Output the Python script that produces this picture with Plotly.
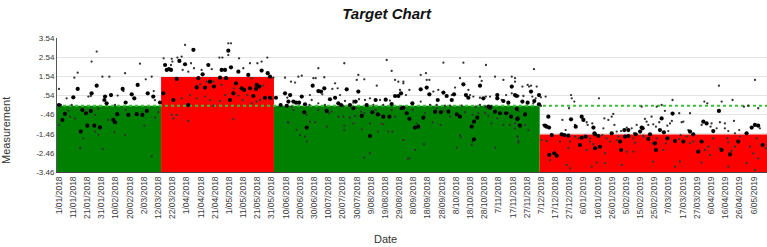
import pandas as pd
import plotly.graph_objects as go

# ---------------- data ----------------
START = pd.Timestamp("2018-01-01")

# segment (mean) bars: start/end in days since 2018-01-01
seg_start = [-1.4, 72.0, 151.6, 339.0]
seg_end = [72.0, 151.6, 339.0, 499.3]
seg_level = [0.0, 1.50, 0.0, -1.50]
seg_color = ["#008000", "#ff0000", "#008000", "#ff0000"]
target_value = 0.0

y_tick_vals = [3.54, 2.54, 1.54, 0.54, -0.46, -1.46, -2.46, -3.46]
y_tick_text = ["3.54", "2.54", "1.54", ".54", "-.46", "-1.46", "-2.46", "-3.46"]

# large points
large_day = [55.5, 26.6, 23.0, 13.2, 10.1, 32.5, 32.0, 33.6, 36.7, 44.9, 51.3, 53.1, 47.0, 62.6, 66.5, 71.2, 0.0, 4.2, 2.4, 16.5,
             19.1, 22.4, 20.0, 24.9, 28.9, 38.3, 41.1, 39.5, 48.9, 54.8, 58.8, 61.9, 15.3, 73.6, 74.8, 76.0, 77.6, 80.7,
             94.8, 119.4, 84.9, 88.9, 79.0, 101.3, 105.3, 114.7, 117.1, 121.3, 126.5, 133.5, 142.9, 147.2, 148.8, 83.0, 98.3,
             97.1, 103.0, 106.5, 109.3, 113.6, 117.8, 123.0, 124.8, 128.8, 130.5, 134.7, 139.0, 139.4, 141.3, 145.3, 137.1,
             120.6, 148.8, 91.2, 153.0, 156.3, 159.4, 160.6,
             178.9, 187.1, 182.9, 184.8, 202.9, 211.1, 163.0, 171.2, 191.1, 194.7, 209.2, 223.3, 230.4, 237.0, 239.3, 241.2,
             234.6, 161.8, 165.3, 167.2, 169.3, 173.5, 197.0, 198.9, 205.2, 217.0, 173.0, 188.8, 207.6, 213.5, 221.0, 224.8,
             228.7, 233.0, 242.8, 174.7, 219.3,
             285.2, 296.9, 319.3, 255.1, 259.3, 261.2, 267.1, 271.1, 273.4, 277.0, 278.6, 287.0, 288.7, 299.3, 309.1, 309.1,
             313.4, 316.9, 321.6, 249.2, 302.8, 241.7, 245.2, 247.1, 251.1, 253.4, 257.0, 265.2, 269.2, 274.6, 280.5, 282.8,
             292.7, 295.0, 291.0, 304.0, 307.5, 311.0, 315.3, 318.8, 323.2, 292.7,
             332.9, 338.5, 322.8, 335.2, 326.8, 330.5, 338.5, 322.8, 328.7, 323.5, 325.1, 345.1, 342.8, 343.9, 345.6, 361.1,
             364.4, 368.6, 369.8, 376.9, 377.6, 389.8, 398.7, 401.5, 409.8, 411.6, 406.7, 347.5, 354.5, 356.4, 359.2, 368.6,
             371.4, 378.0, 380.4, 399.2, 401.5, 367.4, 381.5, 395.7, 349.3, 351.0, 345.8, 378.0, 396.4,
             432.7, 465.4, 425.0, 410.9, 423.8, 426.6, 445.0, 447.3, 454.4, 456.7, 461.4, 484.9, 488.5, 490.8, 493.1, 416.8,
             415.6, 420.3, 421.0, 429.0, 434.4, 440.3, 450.8, 453.2, 467.3, 473.2, 479.0, 496.2]
large_val = [1.09, 1.05, 0.65, 0.88, 0.44, 0.48, 0.30, 0.13, 0.56, 0.88, 0.60, 0.39, 0.17, 0.65, 0.48, 0.17, 0.04, -0.42, -0.74, -0.22,
             -0.39, -0.27, -1.04, -1.04, -1.13, -0.74, -0.44, -0.86, -0.48, -0.44, -0.48, -0.27, -1.35, 0.65, 2.13, 1.87, 1.92, 0.30,
             2.92, 2.88, 2.34, 2.17, 1.87, 1.64, 2.13, 1.87, 1.87, 2.01, 1.78, 1.61, 1.84, 1.70, 1.52, 1.40, 1.44,
             0.96, 0.95, 1.26, 1.00, 1.47, 1.44, 0.65, 1.17, 0.91, 0.83, 0.91, 0.88, 1.09, 1.00, 0.42, 0.51,
             0.30, 0.42, 0.04, 0.42, 0.04, 0.65, 0.00,
             1.05, 0.91, 0.77, 0.74, 0.86, 0.74, 0.56, 0.48, 0.34, 0.42, 0.22, 0.30, 0.32, 0.51, 0.51, 0.65,
             0.09, 0.22, 0.22, 0.16, 0.16, 0.08, 0.13, 0.04, 0.04, 0.04, -0.34, -0.27, -0.13, -0.53, -0.34, -0.45,
             -0.57, -0.57, -0.10, -1.14, -1.58,
             1.12, 1.05, 1.00, 0.86, 0.95, 0.60, 0.30, 0.69, 0.51, 0.30, 0.60, 0.56, 0.42, 0.39, 0.56, 0.39,
             0.25, 0.16, 0.56, 0.13, -0.05, -0.13, -0.39, -0.69, -1.14, -1.09, -0.62, -0.31, -0.34, -0.31, -0.45, -0.57,
             -0.83, -0.62, -1.09, -0.10, -0.31, -0.39, -0.39, -0.57, -0.69, -1.75,
             0.74, 0.56, 0.51, 0.25, 0.22, 0.16, 0.08, -0.17, -0.45, -0.66, -1.04, -0.57, -1.04, -1.09, -1.14, -0.71,
             -1.09, -0.57, -0.74, -1.14, -1.44, -1.44, -1.27, -1.27, -1.35, -1.18, -1.49, -1.53, -1.49, -1.53, -1.56, -1.67,
             -1.61, -1.49, -1.58, -1.61, -1.58, -2.05, -2.14, -1.87, -2.48, -2.61, -2.57, -2.22, -2.31,
             -0.41, -0.27, -0.66, -1.14, -1.27, -1.39, -1.35, -1.49, -0.83, -0.92, -1.32, -1.44, -1.14, -1.00, -1.04, -1.49,
             -1.73, -1.96, -2.31, -1.70, -1.84, -1.87, -2.40, -1.87, -2.31, -2.54, -1.87, -2.05]

# small points
small_day = [26.6, 23.0, 13.2, 10.8, 30.6, 35.5, 46.6, 57.1, 61.2, 65.4, 0.0, 5.4, 20.7, 22.4, 41.4, 45.4, 39.5, 66.8, 67.7, 1.4,
             9.0, 6.6, 7.8, 11.3, 27.8, 25.4, 34.8, 47.0, 60.2, 67.7, 70.1, 17.2, 25.4, 27.8, 39.0, 46.6, 14.9, 30.8, 65.4, 0.0,
             79.0, 80.0, 73.8, 79.5,
             88.9, 119.4, 121.3, 119.4, 79.5, 83.5, 86.5, 93.1, 87.2, 91.2, 95.2, 100.6, 107.7, 113.1, 115.2, 127.0, 130.0,
             134.7, 139.9, 142.9, 146.9, 151.2, 99.5, 104.2, 108.9, 114.7, 123.4, 135.9, 144.1, 86.5, 92.4, 97.1, 103.0,
             106.5, 113.6, 117.1, 126.5, 129.5, 132.8, 135.9, 139.4, 141.8, 150.0, 108.9, 83.0, 80.7, 91.2, 123.0, 159.4,
             161.0, 161.8,
             231.1, 182.9, 201.2, 234.6, 168.8, 171.2, 179.4, 181.0, 163.6, 166.5, 187.1, 194.7, 211.1, 210.0, 215.3, 224.1,
             237.0, 239.3, 242.8, 196.5, 192.8, 159.9, 177.0, 178.2, 185.7, 198.2, 201.7, 207.6, 211.6, 215.8, 219.3, 226.4,
             233.4, 176.6, 182.9, 187.6, 200.5, 207.6, 221.7, 228.7, 164.1, 165.3, 174.7, 182.9, 190.4, 192.3, 197.0, 200.5,
             205.2, 208.8, 213.0, 215.3, 223.3, 226.4, 234.6, 237.0, 161.3, 177.0, 180.6, 188.8, 201.2, 207.6, 219.3, 227.6,
             228.7, 232.3, 235.1, 167.6, 170.0, 173.5, 174.7, 201.2, 213.5, 224.8, 242.8, 219.3, 215.3,
             271.1, 301.1, 285.2, 258.8, 255.1, 261.2, 259.3, 242.9, 240.5, 282.8, 288.7, 296.9, 298.1, 307.5, 313.4, 319.3,
             247.1, 244.7, 264.0, 267.5, 277.0, 279.3, 289.9, 292.2, 296.9, 301.1, 304.0, 312.2, 315.3, 319.3, 324.0, 255.1,
             305.1, 300.4, 294.1, 296.9, 261.7, 266.4, 272.2, 275.8, 284.0, 242.9, 249.4, 252.3, 258.1, 266.4, 271.1, 275.8,
             286.3, 291.7, 295.7, 300.4, 302.8, 316.9, 324.0, 263.5, 269.2, 305.1, 309.1, 313.4, 318.1, 321.6, 282.8, 283.3,
             291.7, 291.0, 242.9, 257.4, 251.1, 247.1, 280.5, 307.5, 323.2, 324.0, 246.0,
             335.0, 321.6, 321.6, 326.8, 330.5, 331.5, 332.9, 336.9, 327.5, 333.8, 336.2, 339.9, 343.2, 334.5, 339.9, 324.0,
             328.7, 331.0, 323.5, 324.0, 321.6, 361.1, 361.6, 363.4, 380.8, 359.7, 341.6, 355.0, 363.9, 357.3, 372.1, 372.8,
             376.1, 384.6, 387.4, 389.8, 390.9, 391.7, 383.9, 393.3, 396.4, 400.4, 403.9, 405.5, 407.4, 363.9, 366.3, 374.5,
             383.2, 386.2, 394.5, 405.1, 412.1, 340.4, 343.9, 353.3, 360.4, 374.5, 376.9, 388.6, 393.3, 406.2, 359.2, 372.1,
             379.2, 385.1, 400.4, 405.1, 346.3, 358.0, 375.7, 379.2, 385.1, 396.9, 360.4,
             490.8, 465.4, 475.0, 455.1, 457.2, 467.3, 432.7, 425.0, 421.5, 410.9, 483.0, 486.1, 493.1, 427.3, 437.4, 445.0,
             417.9, 423.3, 414.4, 413.2, 415.6, 419.1, 421.0, 429.0, 430.9, 432.2, 439.1, 440.3, 429.7, 443.8, 460.2, 459.5,
             453.2, 466.1, 469.6, 476.0, 463.8, 469.6, 472.0, 479.7, 494.3, 476.7, 409.7, 412.1, 421.5, 418.6, 426.2, 428.0,
             437.4, 438.4, 442.6, 445.0, 447.3, 455.5, 457.9, 459.1, 461.4, 466.1, 471.3, 472.0, 474.3, 476.7, 480.2, 487.3,
             492.0, 498.5, 489.6, 493.1, 484.9, 472.0, 453.2, 437.9, 419.1, 434.4, 490.8]
small_val = [2.83, 2.31, 1.73, 1.47, 1.52, 1.52, 1.70, 2.20, 1.38, 1.52, 0.88, 0.39, 0.48, 0.51, 0.53, 0.77, 0.04, 0.77, 0.29, 0.04,
             0.04, -0.27, -0.57, -0.66, -0.16, -0.48, -0.74, -0.22, -1.04, -0.62, -0.34, -1.70, -1.35, -1.53, -1.39, -1.53, -2.22, -2.27, -2.65, -1.00,
             2.13, 2.31, 2.48, -0.48,
             3.18, 3.26, 3.26, 2.65, 2.45, 2.52, 2.57, 2.22, 1.87, 1.78, 1.96, 1.87, 1.91, 2.52, 2.52, 2.48, 1.96,
             2.22, 2.22, 2.31, 2.52, 1.47, 1.12, 1.26, 1.26, 1.09, 0.91, 1.44, 1.05, 0.39, 0.56, 0.39, 0.48,
             0.30, 0.25, 0.56, 0.53, 0.30, 0.56, 0.13, 0.22, 0.30, 0.35, 0.00, -0.48, -0.66, -0.79, -0.71, 1.47,
             0.42, -0.88,
             2.39, 1.96, 2.22, 1.82, 1.52, 1.57, 1.44, 1.44, 1.26, 1.21, 1.49, 1.17, 1.61, 1.35, 1.38, 1.05,
             1.35, 1.26, 1.17, 0.91, 0.88, 0.65, 0.56, 0.30, 0.60, 0.56, 0.25, 0.25, 0.34, 0.30, 0.39, 0.30,
             0.27, 0.04, 0.13, 0.04, 0.00, 0.16, 0.04, 0.04, -0.05, -0.22, -0.48, -0.22, -0.39, -0.31, -0.57, -0.57,
             -0.62, -0.53, -0.31, -0.39, -0.22, -0.48, -0.22, -0.57, -0.86, -0.83, -0.86, -1.09, -1.04, -0.92, -0.92, -0.92,
             -0.97, -1.35, -1.35, -1.27, -1.53, -1.61, -1.87, -1.27, -1.23, -1.35, -1.79, -2.48, -2.71,
             2.25, 2.13, 2.25, 1.70, 1.61, 1.35, 1.35, 1.26, 0.83, 1.44, 0.83, 1.52, 1.30, 1.52, 1.35, 1.52,
             0.83, 0.56, 0.74, 0.83, 0.56, 0.95, 0.56, 0.48, 0.42, 0.48, 0.48, 0.30, 0.56, 0.65, 0.51, 0.22,
             -0.01, -0.05, -0.05, 0.04, 0.04, 0.04, 0.00, 0.00, 0.00, -0.13, -0.22, -0.92, -0.39, -0.13, -0.27, -0.57,
             -0.34, -0.48, -0.39, -0.39, -0.52, -0.39, -0.27, -0.86, -1.00, -0.92, -0.66, -1.00, -1.00, -0.92, -1.53, -1.65,
             -1.87, -2.05, -1.79, -2.01, -2.31, -2.75, -2.19, -2.19, -1.61, -1.93, -2.76,
             1.91, 1.44, 1.26, 1.00, 1.09, 1.00, 1.05, 1.00, 0.51, 0.48, 0.39, 0.44, 0.48, 0.13, -0.01, -1.00,
             -1.00, -1.27, -1.61, -1.84, -1.18, 0.56, 0.39, 0.22, 0.39, -0.13, -1.00, -0.74, -1.00, -1.27, -0.86, -1.00,
             -0.92, -0.66, -0.74, -0.57, -0.43, -1.00, -1.18, -1.35, -1.32, -1.14, -1.18, -1.44, -1.00, -1.61, -1.70, -1.70,
             -1.53, -1.70, -1.61, -1.70, -1.56, -1.79, -1.84, -1.87, -1.87, -1.87, -2.01, -1.87, -1.79, -1.93, -2.22, -2.31,
             -2.22, -2.48, -2.40, -2.40, -2.84, -3.09, -3.18, -2.97, -3.00, -3.09, -3.27,
             1.35, 1.05, 0.30, 0.22, 0.13, 0.22, 0.30, 0.04, -0.05, -0.05, -0.05, 0.00, -0.13, -0.27, -0.39, -0.39,
             -0.57, -0.86, -0.83, -0.69, -1.00, -0.97, -1.09, -1.04, -0.92, -0.79, -0.86, -0.83, -1.32, -1.27, -0.92, -1.09,
             -1.00, -0.86, -0.92, -0.79, -1.18, -1.18, -1.32, -1.27, -1.18, -1.44, -1.35, -1.61, -1.70, -1.96, -2.31, -1.96,
             -1.73, -1.53, -1.61, -1.96, -1.87, -2.31, -2.14, -2.57, -1.70, -2.22, -1.70, -1.91, -2.36, -2.14, -1.61, -2.14,
             -1.70, -2.22, -2.49, -2.75, -3.00, -3.18, -2.97, -2.92, -2.92, -3.18, -3.35]


def to_dates(days):
    return [START + pd.Timedelta(days=float(d)) for d in days]


x_min, x_max = START + pd.Timedelta(days=-1.4), START + pd.Timedelta(days=499.3)
y_min, y_max = -3.46, 3.54

fig = go.Figure()

shapes = []
for s, e, lvl, col in zip(seg_start, seg_end, seg_level, seg_color):
    shapes.append(dict(type="rect", xref="x", yref="y",
                       x0=START + pd.Timedelta(days=s), x1=START + pd.Timedelta(days=e),
                       y0=y_min, y1=lvl, fillcolor=col, line=dict(width=0), layer="between"))

fig.add_trace(go.Scatter(x=[x_min, x_max], y=[target_value, target_value], mode="lines",
                         line=dict(color="#3cbf3c", width=2, dash="dot"), hoverinfo="skip"))
fig.add_trace(go.Scatter(x=to_dates(small_day), y=small_val, mode="markers",
                         marker=dict(color="#333333", size=2.3, line=dict(width=0))))
fig.add_trace(go.Scatter(x=to_dates(large_day), y=large_val, mode="markers",
                         marker=dict(color="#000000", size=4.2, line=dict(width=0))))

FONT = "Liberation Sans, Arial, sans-serif"
fig.update_layout(
    width=767, height=247,
    margin=dict(l=57, r=0, t=38, b=75),
    paper_bgcolor="white", plot_bgcolor="white",
    showlegend=False, hovermode=False,
    shapes=shapes,
    font=dict(family=FONT, size=8, color="#333333"),
    title=dict(text="<b><i>Target Chart</i></b>", x=0.504, xref="container", xanchor="center",
               y=0.945, yref="container", yanchor="middle",
               font=dict(family=FONT, size=15, color="#111111")),
    xaxis=dict(type="date", range=[x_min, x_max], tick0="2018-01-01", dtick=10 * 86400000,
               tickformat="%-d/%m/%Y", tickangle=-90, showgrid=False, showline=True,
               linecolor="#444444", linewidth=1, ticks="", zeroline=False,
               tickfont=dict(size=8.5, color="#3a3a3a")),
    yaxis=dict(range=[y_min, y_max], tickvals=y_tick_vals, ticktext=y_tick_text,
               showgrid=True, gridcolor="#e4e4e4", gridwidth=1, showline=True,
               linecolor="#555555", linewidth=1, ticks="", zeroline=False,
               tickfont=dict(size=8, color="#333333")),
    annotations=[
        dict(text="Measurement", textangle=-90, xref="paper", yref="paper",
             x=(6 - 57) / 710, y=(172 - 131) / 134, xanchor="center", yanchor="middle",
             showarrow=False, font=dict(family=FONT, size=11, color="#333333")),
        dict(text="Date", xref="paper", yref="paper",
             x=(385 - 57) / 710, y=-(239 - 172) / 134, xanchor="center", yanchor="middle",
             showarrow=False, font=dict(family=FONT, size=11, color="#333333")),
    ],
)

fig.write_html("out.html")
